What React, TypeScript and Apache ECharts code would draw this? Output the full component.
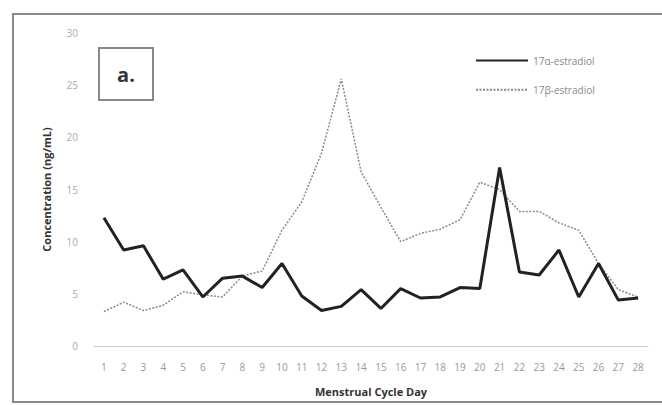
import React, { useEffect, useRef } from "react";
import * as echarts from "echarts";

const days = Array.from({ length: 28 }, (_, i) => String(i + 1));
const alphaValues = [12.3, 9.2, 9.6, 6.4, 7.3, 4.7, 6.5, 6.7, 5.6, 7.9, 4.8, 3.4, 3.8, 5.4, 3.6, 5.5, 4.6, 4.7, 5.6, 5.5, 17.1, 7.1, 6.8, 9.2, 4.7, 7.9, 4.4, 4.6];
const betaValues = [3.3, 4.2, 3.4, 3.9, 5.2, 4.9, 4.7, 6.7, 7.2, 11.1, 13.8, 18.5, 25.6, 16.7, 13.3, 10.0, 10.8, 11.2, 12.1, 15.7, 15.0, 12.9, 12.9, 11.8, 11.1, 7.9, 5.4, 4.7];
const seriesNames = ["17α-estradiol", "17β-estradiol"];

export default function App() {
  const ref = useRef<HTMLDivElement>(null);
  useEffect(() => {
    if (!ref.current) return;
    const chart = echarts.init(ref.current, null, { renderer: "svg" });
    chart.setOption({
      animation: false,
      backgroundColor: "#fff",
      textStyle: { fontFamily: "Open Sans" },
      grid: { left: 94, right: 14, top: 33, bottom: 59 },
      legend: {
        orient: "vertical",
        left: 470,
        top: 50,
        itemWidth: 52,
        itemHeight: 14,
        itemGap: 18,
        itemStyle: { opacity: 0 },
        textStyle: { color: "#888", fontSize: 10, fontFamily: "Open Sans" },
        data: seriesNames,
      },
      xAxis: {
        type: "category",
        data: days,
        boundaryGap: true,
        axisLine: { lineStyle: { color: "#ccc", width: 1 } },
        axisTick: { show: false },
        axisLabel: { color: "#999", fontSize: 10, margin: 16, interval: 0 },
        name: "Menstrual Cycle Day",
        nameLocation: "middle",
        nameGap: 40,
        nameTextStyle: { color: "#333", fontSize: 11, fontWeight: "bold" },
      },
      yAxis: {
        type: "value",
        min: 0,
        max: 30,
        interval: 5,
        splitLine: { show: false },
        axisLine: { show: false },
        axisTick: { show: false },
        axisLabel: { color: "#aaa", fontSize: 10, margin: 16 },
        name: "Concentration (ng/mL)",
        nameLocation: "middle",
        nameGap: 42,
        nameTextStyle: { color: "#333", fontSize: 11, fontWeight: "bold" },
      },
      series: [
        {
          name: seriesNames[0],
          type: "line",
          data: alphaValues,
          symbol: "none",
          lineStyle: { color: "#222", width: 3 },
          itemStyle: { color: "#222" },
          z: 3,
        },
        {
          name: seriesNames[1],
          type: "line",
          data: betaValues,
          symbol: "none",
          lineStyle: { color: "#8a8a8a", width: 1.5, type: [2, 1.5] },
          itemStyle: { color: "#8a8a8a" },
          z: 2,
        },
      ],
      graphic: [
        {
          type: "rect",
          shape: { x: 13, y: 14, width: 660, height: 388 },
          style: { fill: "none", stroke: "#888", lineWidth: 2 },
          silent: true,
        },
        {
          type: "rect",
          shape: { x: 99, y: 48, width: 54, height: 52 },
          style: { fill: "#fff", stroke: "#888", lineWidth: 2 },
        },
        {
          type: "text",
          x: 126,
          y: 74,
          style: {
            text: "a.",
            fill: "#333",
            font: "bold 20px 'Open Sans'",
            align: "center",
            verticalAlign: "middle",
          },
        },
      ],
    });
    return () => chart.dispose();
  }, []);
  return <div ref={ref} style={{ position: "fixed", left: 0, top: 0, width: 662, height: 405 }} />;
}
